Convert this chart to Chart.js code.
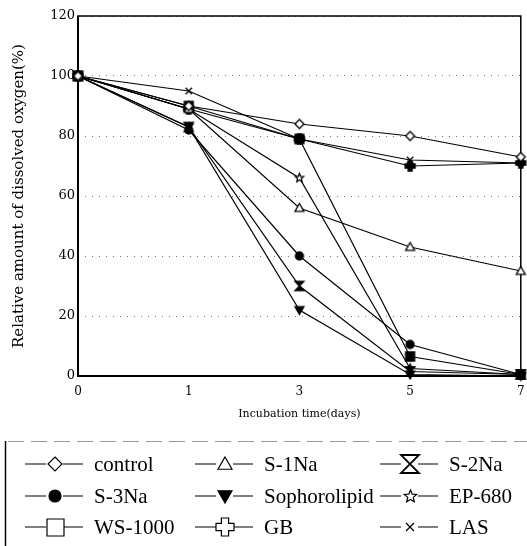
<!DOCTYPE html>
<html>
<head>
<meta charset="utf-8">
<script src="https://cdn.jsdelivr.net/npm/chart.js@4"></script>
<style>
  html, body { margin: 0; padding: 0; background: #fff; }
</style>
</head>
<body>
<canvas id="myChart" width="527" height="546"></canvas>
<script>
// data
const days = ['0', '1', '3', '5', '7'];
const seriesNames = ['control', 'S-1Na', 'S-2Na', 'S-3Na', 'Sophorolipid', 'EP-680', 'WS-1000', 'GB', 'LAS'];
const control      = [100, 90, 84, 80, 73];
const s1Na         = [100, 89, 56, 43, 35];
const s2Na         = [100, 83, 30, 1.5, 0.5];
const s3Na         = [100, 82, 40, 10.5, 0.5];
const sophorolipid = [100, 83, 22, 0.5, 0];
const ep680        = [100, 89, 66, 2.5, 0.5];
const ws1000       = [100, 90, 79, 6.5, 0.5];
const gb           = [100, 89, 79, 70, 71];
const las          = [100, 95, 79, 72, 71];
const seriesValues = [control, s1Na, s2Na, s3Na, sophorolipid, ep680, ws1000, gb, las];

// marker look for each series (chart / legend)
const markerKind  = ['diamond', 'triangle', 'bowtie', 'circle', 'downTriangle', 'star', 'square', 'plus', 'cross'];
const chartSolid  = [false, false, true, true, true, false, true, true, false];
const legendSolid = [false, false, false, true, true, false, false, false, false];
const chartSize   = [4.5, 4.5, 4.5, 4, 4.5, 4.5, 4.5, 5, 4];
const legendSize  = [7, 7, 9, 6, 7, 6.5, 8.5, 9, 5];

function makeIcon(kind, r, lw, solid) {
    const pad = Math.ceil(lw) + 1;
    const s = Math.ceil(2 * r + 2 * pad);
    const cv = document.createElement('canvas');
    cv.width = s; cv.height = s;
    const g = cv.getContext('2d');
    const c = s / 2;
    g.lineWidth = lw;
    g.strokeStyle = '#000';
    g.fillStyle = solid ? '#000' : '#fff';
    g.beginPath();
    switch (kind) {
        case 'diamond':
            g.moveTo(c, c - r); g.lineTo(c + r, c); g.lineTo(c, c + r); g.lineTo(c - r, c); g.closePath();
            break;
        case 'triangle':
            g.moveTo(c, c - r); g.lineTo(c + r, c + r * 0.75); g.lineTo(c - r, c + r * 0.75); g.closePath();
            break;
        case 'downTriangle':
            g.moveTo(c - r, c - r * 0.75); g.lineTo(c + r, c - r * 0.75); g.lineTo(c, c + r); g.closePath();
            break;
        case 'circle':
            g.arc(c, c, r, 0, Math.PI * 2);
            break;
        case 'square':
            g.rect(c - r, c - r, 2 * r, 2 * r);
            break;
        case 'bowtie':
            g.moveTo(c - r, c - r); g.lineTo(c + r, c - r); g.lineTo(c - r, c + r); g.lineTo(c + r, c + r); g.closePath();
            break;
        case 'star':
            for (let k = 0; k < 10; k++) {
                const a = -Math.PI / 2 + k * Math.PI / 5;
                const rr = k % 2 ? r * 0.45 : r;
                const px = c + rr * Math.cos(a), py = c + rr * Math.sin(a);
                if (k) g.lineTo(px, py); else g.moveTo(px, py);
            }
            g.closePath();
            break;
        case 'plus': {
            const w = r * 0.4;
            const pts = [[-w, -r], [w, -r], [w, -w], [r, -w], [r, w], [w, w], [w, r], [-w, r], [-w, w], [-r, w], [-r, -w], [-w, -w]];
            pts.forEach((p, k) => k ? g.lineTo(c + p[0], c + p[1]) : g.moveTo(c + p[0], c + p[1]));
            g.closePath();
            break;
        }
        case 'cross':
            g.moveTo(c - r * 0.8, c - r * 0.8); g.lineTo(c + r * 0.8, c + r * 0.8);
            g.moveTo(c + r * 0.8, c - r * 0.8); g.lineTo(c - r * 0.8, c + r * 0.8);
            break;
    }
    if (kind !== 'cross') g.fill();
    g.stroke();
    return cv;
}

const chartIcons = markerKind.map((k, i) => makeIcon(k, chartSize[i], 1.3, chartSolid[i]));
const legendIcons = markerKind.map((k, i) => makeIcon(k, legendSize[i], k === 'bowtie' ? 1.8 : 1.2, legendSolid[i]));

const datasets = seriesNames.map((name, i) => ({
    label: name,
    data: seriesValues[i],
    borderColor: '#000',
    borderWidth: 1.2,
    tension: 0,
    fill: false,
    pointStyle: chartIcons[i],
    pointRadius: 5,
    clip: false
}));

// box around the plot area
const framePlugin = {
    id: 'frame',
    beforeDatasetsDraw(chart) {
        const { left, right, top, bottom } = chart.chartArea;
        const c = chart.ctx;
        c.save();
        c.strokeStyle = '#000';
        c.lineWidth = 1.5;
        c.strokeRect(left, top, right - left, bottom - top);
        c.lineWidth = 2;
        c.beginPath();
        c.moveTo(left, top); c.lineTo(left, bottom); c.lineTo(right, bottom);
        c.stroke();
        c.restore();
    }
};

// the boxed legend under the chart
const legendPlugin = {
    id: 'boxLegend',
    afterDraw(chart) {
        const c = chart.ctx;
        c.save();
        c.strokeStyle = '#999';
        c.lineWidth = 1;
        c.setLineDash([16, 7]);
        c.beginPath(); c.moveTo(8, 441.5); c.lineTo(527, 441.5); c.stroke();
        c.setLineDash([]);
        c.strokeStyle = '#000';
        c.lineWidth = 1.5;
        c.beginPath(); c.moveTo(5.5, 441); c.lineTo(5.5, 546); c.stroke();

        const colX = [25, 195, 380];
        const rowY = [464, 496, 527];
        c.font = '21px "Liberation Serif"';
        c.textBaseline = 'middle';
        chart.data.datasets.forEach((ds, i) => {
            const x0 = colX[i % 3];
            const y = rowY[Math.floor(i / 3)];
            c.strokeStyle = '#000';
            c.lineWidth = 1.2;
            c.beginPath();
            c.moveTo(x0, y); c.lineTo(x0 + 21, y);
            c.moveTo(x0 + 38, y); c.lineTo(x0 + 58, y);
            c.stroke();
            const icon = legendIcons[i];
            c.drawImage(icon, Math.round(x0 + 30 - icon.width / 2), Math.round(y - icon.height / 2));
            c.fillStyle = '#000';
            c.fillText(ds.label, x0 + 69, y + 1);
        });
        c.restore();
    }
};

const ctx = document.getElementById('myChart').getContext('2d');
const myChart = new Chart(ctx, {
    type: 'line',
    data: {
        labels: days,
        datasets: datasets
    },
    options: {
        responsive: false,
        animation: false,
        layout: { padding: { left: 7, top: 16, right: 3, bottom: 120 } },
        plugins: {
            legend: { display: false },
            tooltip: { enabled: false }
        },
        scales: {
            x: {
                offset: false,
                grid: { display: false, drawTicks: false },
                border: { display: false },
                ticks: {
                    color: '#000',
                    font: { family: 'DejaVu Serif', size: 12 },
                    padding: 9,
                    maxRotation: 0
                },
                title: {
                    display: true,
                    text: 'Incubation time(days)',
                    color: '#000',
                    font: { family: 'DejaVu Serif', size: 11 },
                    padding: { top: 2, bottom: 5 }
                },
                afterFit: s => { s.height = 50; s.paddingLeft = 0; s.paddingRight = 0; }
            },
            y: {
                min: 0,
                max: 120,
                ticks: {
                    stepSize: 20,
                    color: '#000',
                    font: { family: 'DejaVu Serif', size: 13 },
                    padding: 3
                },
                grid: { color: '#777', lineWidth: 1, drawTicks: false },
                border: { display: false, dash: [1, 6] },
                title: {
                    display: true,
                    text: 'Relative amount of dissolved oxygen(%)',
                    color: '#000',
                    font: { family: 'DejaVu Serif', size: 15 },
                    padding: { top: 3, bottom: 0 }
                },
                afterFit: s => { s.width = 71; }
            }
        }
    },
    plugins: [framePlugin, legendPlugin]
});
</script>
</body>
</html>
